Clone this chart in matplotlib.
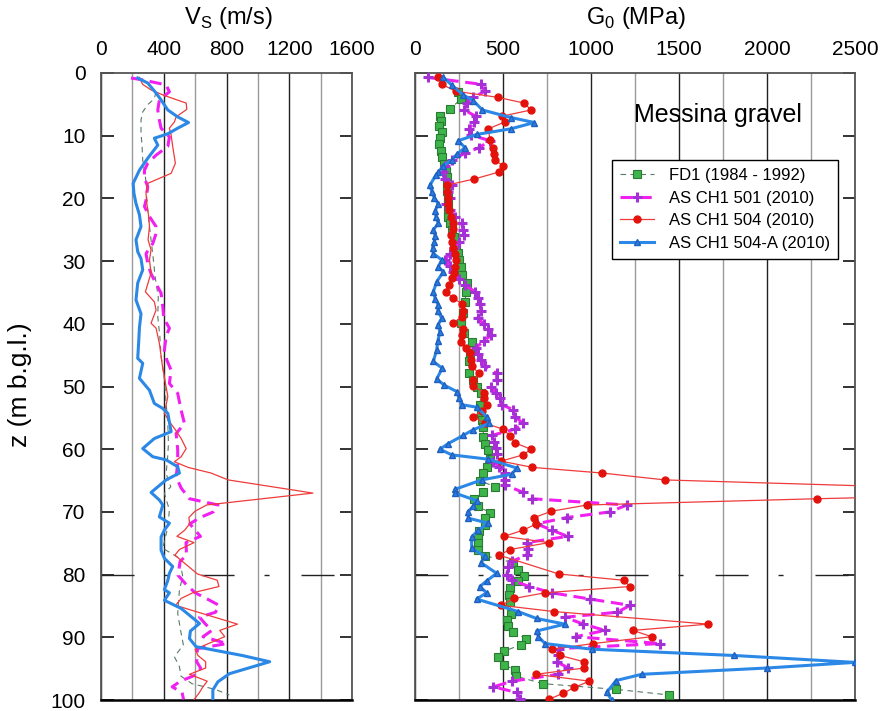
import matplotlib
matplotlib.use('agg')
import matplotlib.pyplot as plt

plt.rcParams['font.family'] = ['Liberation Sans', 'DejaVu Sans']
plt.rcParams['mathtext.fontset'] = 'custom'
plt.rcParams['mathtext.rm'] = 'Liberation Sans'

# ---- shear wave velocity profiles, Vs (m/s) vs depth z (m) ----
fd1_vs_z = [3.0, 4.1, 5.0, 6.2, 7.5, 9.6, 11.7, 13.9, 16.0, 18.1, 20.3, 23.4, 26.6, 29.8,
            32.5, 34.1, 35.7, 38.9, 42.0, 45.2, 48.9, 52.7, 55.3, 59.1, 61.2, 63.9, 66.0,
            67.0, 69.7, 72.4, 75.8, 77.4, 80.3, 82.4, 86.2, 89.4, 91.2, 93.1, 94.7, 96.2,
            97.4, 98.3, 99.2]
fd1_vs = [350, 340, 300, 266, 255, 255, 262, 266, 280, 290, 292, 304, 319, 334,
          345, 355, 365, 362, 375, 383, 405, 415, 425, 430, 425, 415, 445,
          404, 436, 426, 394, 500, 521, 500, 489, 511, 525, 468, 500, 510,
          580, 727, 818]

ch501_vs_z = [0.8, 1.1, 1.9, 3.0, 4.3, 5.9, 7.5, 8.8, 10.2, 11.7, 13.1, 14.4, 15.5, 16.8,
              18.1, 20.3, 21.3, 22.9, 24.5, 25.6, 27.2, 28.8, 30.4, 32.0, 33.8, 35.1, 37.3,
              39.1, 40.7, 42.0, 44.2, 45.8, 47.4, 49.5, 51.1, 53.8, 55.9, 57.5, 60.1, 62.3,
              64.4, 66.2, 67.9, 68.9, 70.0, 70.9, 71.9, 72.9, 73.9, 74.9, 76.9, 77.9, 80.1,
              81.5, 82.9, 83.9, 84.9, 86.0, 86.8, 87.9, 88.9, 89.9, 91.0, 91.8, 93.9, 94.9,
              95.9, 97.0, 97.9, 98.8, 99.9]
ch501_vs = [191, 266, 415, 436, 372, 362, 372, 383, 436, 426, 351, 298, 277, 277,
            298, 287, 277, 309, 351, 351, 330, 287, 298, 319, 355, 383, 394,
            400, 436, 415, 404, 420, 447, 436, 489, 511, 532, 479, 489, 489,
            479, 511, 564, 746, 716, 632, 566, 600, 634, 542, 545, 504, 491,
            540, 600, 678, 752, 730, 628, 666, 707, 650, 803, 615, 610, 635,
            614, 506, 454, 517, 526]

ch504_vs_z = [0.7, 1.8, 2.7, 3.5, 4.8, 5.8, 7.0, 7.8, 8.8, 9.9, 11.7, 14.4, 16.0, 17.6,
              19.2, 20.8, 22.9, 24.5, 26.6, 28.2, 29.8, 31.9, 34.9, 36.5, 37.8, 39.9, 40.7,
              43.1, 46.8, 48.9, 51.6, 54.3, 55.6, 56.9, 58.3, 59.9, 61.2, 62.0, 62.9, 63.8,
              64.9, 67.0, 68.9, 69.9, 70.9, 71.9, 72.9, 73.9, 74.9, 76.0, 76.9, 79.9, 80.9,
              81.9, 82.9, 83.8, 84.9, 85.9, 87.9, 88.9, 89.9, 91.0, 91.9, 92.9, 93.9, 94.9,
              95.9, 97.0, 98.0, 98.9, 99.9]
ch504_vs = [245, 265, 319, 394, 543, 547, 479, 468, 436, 447, 457, 474, 447, 298,
            287, 292, 304, 309, 300, 319, 309, 319, 283, 340, 351, 319, 351,
            372, 392, 407, 426, 404, 436, 474, 511, 543, 511, 468, 555, 701,
            811, 1351, 673, 599, 560, 565, 534, 484, 593, 500, 471, 615, 741,
            752, 585, 511, 476, 606, 870, 757, 789, 685, 600, 618, 667, 667,
            564, 677, 647, 625, 594]

ch504a_vs_z = [0.8, 1.6, 3.2, 4.3, 5.9, 7.0, 7.9, 8.8, 9.7, 10.4, 11.5, 13.6, 15.5, 17.6,
               19.2, 20.8, 22.6, 24.5, 26.6, 28.5, 29.6, 31.4, 33.5, 36.2, 38.4, 40.6, 43.0,
               45.5, 46.3, 48.7, 50.6, 52.7, 53.5, 54.3, 57.2, 58.3, 59.9, 61.2, 61.7, 62.8,
               63.8, 64.9, 66.9, 68.1, 68.9, 70.8, 71.8, 72.9, 74.0, 76.1, 77.4, 78.7, 79.8,
               81.0, 82.4, 82.9, 84.1, 85.4, 87.8, 89.0, 90.2, 91.5, 92.9, 93.9, 95.8, 97.1,
               98.4, 100.0]
ch504a_vs = [234, 298, 351, 383, 426, 489, 558, 489, 426, 340, 362, 298, 245, 205,
             210, 223, 245, 255, 223, 234, 255, 266, 234, 223, 255, 245, 240,
             234, 266, 245, 309, 340, 394, 426, 447, 340, 266, 330, 415, 489,
             500, 415, 319, 372, 394, 372, 436, 404, 383, 383, 404, 457, 436,
             425, 404, 436, 404, 511, 628, 570, 564, 606, 900, 1075, 819, 745,
             713, 713]

# ---- small-strain shear modulus profiles, G0 (MPa) vs depth z (m) ----
fd1_g_z = [3.0, 4.1, 5.8, 6.9, 7.6, 8.5, 9.4, 10.3, 11.3, 12.4, 13.4, 14.5, 15.6, 16.6,
           17.7, 18.8, 19.9, 21.0, 22.0, 22.9, 24.0, 25.1, 26.2, 27.4, 28.7, 29.8, 31.0,
           32.2, 33.5, 35.0, 36.5, 38.3, 39.8, 41.5, 42.9, 44.6, 46.0, 47.8, 49.0, 50.1,
           51.1, 53.0, 54.3, 55.4, 56.4, 58.0, 59.1, 60.1, 61.5, 62.8, 63.8, 65.0, 66.0,
           66.9, 67.9, 69.1, 70.1, 71.0, 72.1, 73.0, 74.1, 74.9, 76.0, 77.0, 78.1, 79.2,
           80.2, 81.1, 82.2, 83.3, 84.3, 86.3, 87.2, 88.2, 89.2, 90.2, 91.2, 92.2, 93.1,
           94.4, 95.2, 96.2, 97.4, 98.3, 99.2]
fd1_g = [246, 261, 199, 142, 148, 138, 152, 142, 138, 148, 155, 167, 174, 180,
         180, 182, 185, 186, 188, 189, 200, 210, 220, 235, 246, 250, 262,
         265, 294, 290, 284, 274, 261, 280, 322, 313, 307, 309, 331, 350,
         375, 369, 375, 380, 388, 388, 400, 417, 426, 407, 388, 369, 455,
         388, 337, 356, 426, 398, 398, 364, 360, 356, 356, 398, 558, 583,
         617, 587, 540, 534, 540, 545, 521, 527, 558, 629, 602, 507, 473,
         507, 568, 572, 729, 1142, 1445]

ch501_g_z = [0.7, 1.8, 2.9, 3.9, 4.8, 5.9, 6.9, 7.8, 8.9, 9.9, 10.8, 11.9, 12.8, 13.9,
             14.8, 15.8, 16.9, 17.9, 18.9, 19.9, 20.9, 21.9, 22.9, 24.0, 25.0, 25.9, 26.9,
             27.9, 28.8, 29.8, 30.8, 31.7, 32.8, 33.8, 34.9, 35.9, 36.9, 37.9, 39.1, 40.0,
             40.9, 41.8, 42.8, 43.8, 44.8, 45.8, 46.8, 47.9, 49.0, 50.1, 51.0, 51.9, 52.9,
             53.7, 54.8, 55.9, 56.8, 57.8, 58.8, 59.8, 60.8, 62.0, 62.9, 63.8, 64.9, 65.7,
             66.9, 67.9, 68.9, 70.0, 70.9, 71.9, 72.9, 73.9, 74.9, 75.9, 76.9, 77.9, 78.8,
             80.1, 80.9, 81.9, 82.9, 83.9, 84.9, 86.0, 86.8, 87.9, 88.9, 89.9, 91.0, 91.8,
             92.9, 93.9, 94.9, 95.9, 97.0, 97.9, 98.8, 99.9]
ch501_g = [72, 375, 398, 331, 294, 280, 345, 337, 307, 320, 426, 364, 284, 208,
           170, 161, 170, 208, 190, 200, 175, 200, 227, 265, 275, 280, 250,
           220, 199, 170, 200, 218, 250, 284, 341, 360, 370, 375, 356, 390,
           417, 432, 390, 345, 360, 375, 398, 464, 464, 432, 460, 483, 492,
           558, 568, 615, 568, 436, 451, 460, 464, 445, 480, 511, 511, 511,
           615, 663, 1203, 1108, 862, 691, 777, 867, 635, 640, 635, 549, 530,
           521, 549, 650, 777, 994, 1222, 1150, 852, 957, 1080, 913, 1392, 818,
           810, 805, 871, 814, 553, 445, 578, 597]

ch504_g_z = [0.7, 1.8, 2.9, 3.9, 4.8, 5.9, 6.9, 7.8, 8.9, 10.7, 11.9, 12.9, 13.9, 14.8,
             15.8, 16.9, 17.9, 18.9, 19.9, 20.9, 21.9, 22.9, 23.9, 24.9, 25.9, 26.9, 27.9,
             28.9, 29.9, 30.9, 31.9, 32.7, 33.8, 34.9, 35.9, 36.8, 37.9, 38.9, 39.8, 40.9,
             41.8, 42.9, 43.8, 44.7, 45.8, 46.8, 47.9, 49.0, 49.9, 51.0, 51.9, 52.9, 53.9,
             54.8, 55.9, 56.8, 57.9, 59.0, 60.0, 60.9, 61.9, 62.9, 63.8, 64.9, 66.9, 67.9,
             68.9, 69.9, 70.9, 71.9, 72.9, 73.9, 74.9, 76.0, 76.9, 79.9, 80.9, 81.9, 82.9,
             83.8, 84.9, 85.9, 87.9, 88.9, 89.9, 91.0, 91.9, 92.9, 93.9, 94.9, 95.9, 97.0,
             98.0, 98.9, 99.9]
ch504_g = [129, 152, 231, 474, 621, 659, 492, 511, 417, 426, 445, 451, 455, 500,
           477, 337, 180, 180, 186, 186, 195, 205, 218, 215, 205, 210, 215,
           225, 235, 225, 220, 208, 193, 174, 218, 265, 274, 269, 218, 274,
           269, 261, 290, 313, 318, 322, 364, 331, 331, 394, 394, 407, 383,
           331, 398, 502, 540, 568, 659, 615, 489, 667, 1063, 1420, 3800, 2282,
           977, 775, 678, 690, 615, 507, 760, 540, 479, 817, 1186, 1222, 739,
           564, 489, 792, 1667, 1238, 1345, 1013, 777, 824, 960, 960, 688, 991,
           905, 843, 761]

ch504a_g_z = [0.7, 1.9, 3.5, 4.4, 5.9, 7.1, 7.9, 8.9, 9.8, 10.8, 11.9, 12.9, 13.9, 14.8,
              15.8, 16.3, 17.9, 18.9, 19.9, 20.9, 22.0, 23.0, 24.0, 25.0, 26.0, 26.9, 27.9,
              28.8, 29.8, 30.9, 31.7, 33.3, 34.9, 36.0, 37.0, 38.0, 39.1, 40.2, 41.3, 42.7,
              44.2, 46.0, 47.1, 48.8, 49.8, 50.8, 51.8, 52.9, 53.3, 54.8, 55.9, 56.9, 57.8,
              59.1, 60.0, 60.9, 61.6, 63.0, 64.0, 64.9, 66.4, 67.0, 68.2, 69.1, 70.0, 71.0,
              71.8, 72.9, 74.0, 75.8, 77.1, 78.1, 79.8, 81.0, 81.9, 82.9, 83.9, 85.9, 87.0,
              87.9, 89.0, 89.9, 91.0, 91.9, 92.9, 94.0, 94.9, 95.9, 96.9, 98.8, 100.0]
ch504a_g = [160, 208, 274, 331, 383, 545, 678, 545, 350, 246, 284, 240, 208, 161,
            133, 118, 85, 95, 110, 133, 114, 120, 133, 104, 115, 110, 100,
            104, 152, 133, 161, 123, 104, 115, 133, 130, 152, 130, 142, 130,
            123, 104, 155, 123, 167, 237, 250, 265, 350, 407, 420, 330, 274,
            189, 142, 208, 417, 578, 549, 379, 227, 227, 350, 330, 300, 303,
            417, 360, 322, 322, 398, 375, 464, 407, 369, 407, 350, 587, 691,
            852, 691, 701, 739, 1004, 1813, 2500, 1998, 1288, 1142, 1089, 1118]

labels = ['FD1 (1984 - 1992)', 'AS CH1 501 (2010)', 'AS CH1 504 (2010)', 'AS CH1 504-A (2010)']

W, H = 880, 711
fig = plt.figure(figsize=(W / 100, H / 100), dpi=100)
ax1 = fig.add_axes([101 / W, 1 - 700 / H, 251 / W, 627 / H])
ax2 = fig.add_axes([415 / W, 1 - 700 / H, 440 / W, 627 / H])

green = dict(color='#587a66', lw=0.8, dashes=(5, 4))
magenta = dict(color='#f020f0', lw=2.2, dashes=(4, 2.2))
red = dict(color='#ee3b3b', lw=0.9)
blue = dict(color='#2b88e6', lw=2.2)

# Vs panel: lines only
ax1.plot(fd1_vs, fd1_vs_z, **green, zorder=3)
ax1.plot(ch501_vs, ch501_vs_z, **magenta, zorder=4)
ax1.plot(ch504_vs, ch504_vs_z, **red, zorder=5)
ax1.plot(ch504a_vs, ch504a_vs_z, **blue, zorder=6)

# G0 panel: lines with markers
ax2.plot(fd1_g, fd1_g_z, **green, marker='s', ms=5.5, mfc='#3db54a', mec='#2b7a33',
         mew=0.8, label=labels[0], zorder=3)
ax2.plot(ch501_g, ch501_g_z, **magenta, marker='+', ms=7, mec='#a62fd6', mew=2.2,
         label=labels[1], zorder=4)
ax2.plot(ch504_g, ch504_g_z, **red, marker='o', ms=5, mfc='#e3120b', mec='#e3120b',
         label=labels[2], zorder=5)
ax2.plot(ch504a_g, ch504a_g_z, **blue, marker='^', ms=4.5, mfc='#2b7fe0', mec='#1f5fbf',
         label=labels[3], zorder=6)

for ax, xmax, major, minor in [(ax1, 1600, range(0, 1601, 400), range(200, 1600, 400)),
                               (ax2, 2500, range(0, 2501, 500), range(250, 2500, 500))]:
    ax.set_xlim(0, xmax)
    ax.set_ylim(100, 0)
    ax.set_xticks(list(major))
    ax.set_xticks(list(minor), minor=True)
    ax.xaxis.tick_top()
    ax.tick_params(axis='x', which='both', length=0, pad=10, labelsize=15)
    ax.set_yticks(range(0, 101, 10))
    ax.tick_params(axis='y', direction='in', length=9, width=1.3, color='#222',
                   left=True, right=True, pad=11, labelsize=15)
    ax.grid(which='major', axis='x', color='#222222', lw=1.0, zorder=1)
    ax.grid(which='minor', axis='x', color='#9a9a9a', lw=1.0, zorder=1)
    ax.set_axisbelow(True)
    for side in ['top', 'right', 'left']:
        ax.spines[side].set_color('#555555')
        ax.spines[side].set_linewidth(1.3)
    ax.spines['bottom'].set_color('#000000')
    ax.spines['bottom'].set_linewidth(1.8)
    # dash-dot reference line at 80 m
    ax.plot([0, xmax], [80, 80], color='#222222', lw=1.0,
            dashes=(23.8, 21.6, 3.6, 23.0), zorder=2, clip_on=False)

ax2.tick_params(axis='y', labelleft=False)

fig.text(228 / W, 1 - 18 / H, r'V$_\mathrm{S}$ (m/s)', ha='center', va='center', fontsize=17)
fig.text(636 / W, 1 - 18 / H, r'G$_0$ (MPa)', ha='center', va='center', fontsize=17)
fig.text(20 / W, 1 - 385 / H, 'z (m b.g.l.)', ha='center', va='center', rotation=90,
         fontsize=19)
fig.text(634 / W, 1 - 115 / H, 'Messina gravel', ha='left', va='center', fontsize=18)

leg = ax2.legend(loc='upper left', bbox_to_anchor=(612 / W, 1 - 160 / H),
                 bbox_transform=fig.transFigure, borderaxespad=0, fontsize=12,
                 numpoints=1, handlelength=2.0, handletextpad=0.9, labelspacing=0.45,
                 borderpad=0.5, fancybox=False, framealpha=1, edgecolor='#000000')
leg.get_frame().set_linewidth(1.0)

fig.savefig('out.png', dpi=100)
